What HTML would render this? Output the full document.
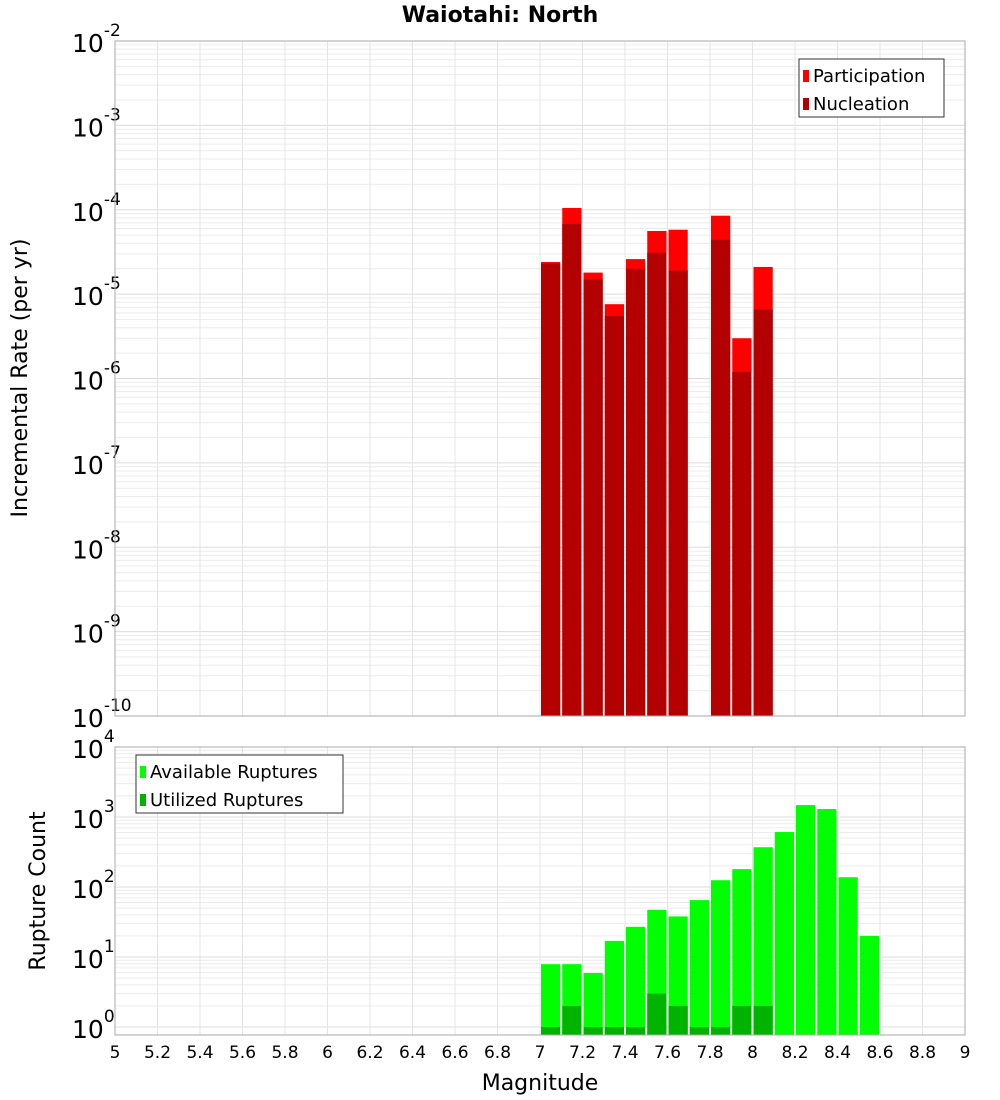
<!DOCTYPE html>
<html><head><meta charset="utf-8"><style>
body{margin:0;background:#fff;font-family:"DejaVu Sans","Liberation Sans",sans-serif}
svg{display:block}
</style></head><body>
<svg id="c" width="1000" height="1100" xmlns="http://www.w3.org/2000/svg">
<text x="500" y="22" text-anchor="middle" font-size="22" font-weight="bold">Waiotahi: North</text>
<g id="topPanel"></g>
<g id="botPanel"></g>
<text x="540" y="1090" text-anchor="middle" font-size="22">Magnitude</text>
<text transform="translate(27,378) rotate(-90)" text-anchor="middle" font-size="22">Incremental Rate (per yr)</text>
<text transform="translate(45,891) rotate(-90)" text-anchor="middle" font-size="22">Rupture Count</text>
</svg>
<script>
const bins=[7.05,7.15,7.25,7.35,7.45,7.55,7.65,7.75,7.85,7.95,8.05];
const participation=[2.4e-5,1.05e-4,1.8e-5,7.6e-6,2.6e-5,5.6e-5,5.8e-5,0,8.5e-5,3.0e-6,2.1e-5];
const nucleation=[2.3e-5,6.8e-5,1.5e-5,5.5e-6,2.0e-5,3.1e-5,1.9e-5,0,4.4e-5,1.2e-6,6.6e-6];
const countBins=[7.05,7.15,7.25,7.35,7.45,7.55,7.65,7.75,7.85,7.95,8.05,8.15,8.25,8.35,8.45,8.55];
const available=[7.9,7.9,5.9,17,27,47,38,65,125,180,370,610,1480,1300,138,20];
const utilized=[1,2,1,1,1,3,2,1,1,2,2,0,0,0,0,0];
const xTicks=[5,5.2,5.4,5.6,5.8,6,6.2,6.4,6.6,6.8,7,7.2,7.4,7.6,7.8,8,8.2,8.4,8.6,8.8,9];
const topExps=[-10,-9,-8,-7,-6,-5,-4,-3,-2];
const botExps=[0,1,2,3,4];
const NS='http://www.w3.org/2000/svg';
const X0=115,X1=965;
const xs=m=>X0+(m-5)/4*(X1-X0);
const T0=41,T1=716;
const yTop=v=>T0+(-2-Math.log10(v))*(T1-T0)/8;
const B0=747,B1=1035,BZ=1027,BD=70;
const yBot=v=>Math.min(B1,BZ-BD*Math.log10(v));
function el(p,t,a){const e=document.createElementNS(NS,t);for(const k in a)e.setAttribute(k,a[k]);p.appendChild(e);return e;}
const topG=document.getElementById('topPanel'),botG=document.getElementById('botPanel'),svgEl=document.getElementById('c');
function grid(g,y0,y1,yf,exps){
  for(let e=exps[0];e<exps[exps.length-1];e++)for(let k=2;k<10;k++){const y=yf(k*Math.pow(10,e));if(y>y0&&y<y1){const l=el(g,'line',{x1:X0,x2:X1,y1:y,y2:y,stroke:'#ececec','stroke-width':1});

}}
  exps.forEach(e=>{const y=yf(Math.pow(10,e));if(y>=y0&&y<=y1){const l=el(g,'line',{x1:X0,x2:X1,y1:y,y2:y,stroke:'#dcdcdc'});

}});
  xTicks.forEach(t=>{const l=el(g,'line',{x1:xs(t),x2:xs(t),y1:y0,y2:y1,stroke:'#e4e4e4'});

});
}
grid(topG,T0,T1,yTop,topExps);
grid(botG,B0,B1,yBot,botExps);
const bw=(X1-X0)/40;
function bar(g,m,v,base,yf,col,name){if(!v)return;const y=yf(v);const r=el(g,'rect',{x:xs(m)-bw/2+1,y:y,width:bw-2,height:base-y,fill:col});

}
bins.forEach((m,i)=>{bar(topG,m,participation[i],T1,yTop,'#ff0000','participation-bar');bar(topG,m,nucleation[i],T1,yTop,'#b30000','nucleation-bar');});
countBins.forEach((m,i)=>{bar(botG,m,available[i],B1,yBot,'#00ff00','available-bar');bar(botG,m,utilized[i],B1,yBot,'#00b300','utilized-bar');});
[[T0,T1],[B0,B1]].forEach(([a,b])=>{const r=el(svgEl,'rect',{x:X0,y:a,width:X1-X0,height:b-a,fill:'none',stroke:'#aaa'});

});
function ylab(g,y,e,name){const t=el(g,'text',{x:72,y:y+11,'font-size':25});t.textContent='10';


const s=el(t,'tspan',{dy:-16,'font-size':17});s.textContent=String(e);}
topExps.forEach(e=>ylab(topG,yTop(Math.pow(10,e)),e,'top-y-tick-label'));
botExps.forEach(e=>ylab(botG,BZ-BD*e,e,'bottom-y-tick-label'));
xTicks.forEach(t=>{const tx=el(svgEl,'text',{x:xs(t),y:1058,'text-anchor':'middle','font-size':17});tx.textContent=String(t);

});
function legend(g,x,y,w,items,name){const lg=el(g,'g',{});


el(lg,'rect',{x:x,y:y,width:w,height:58,fill:'#fff',stroke:'#333'});items.forEach(([lab,c],i)=>{el(lg,'rect',{x:x+4,y:y+11+i*28,width:6,height:12,fill:c});const t=el(lg,'text',{x:x+14,y:y+23+i*28,'font-size':18});t.textContent=lab;

});}
legend(topG,799,59,145,[['Participation','#ff0000'],['Nucleation','#b30000']],'top-legend');
legend(botG,136,755,207,[['Available Ruptures','#00ff00'],['Utilized Ruptures','#00b300']],'bottom-legend');
</script>
</body></html>
